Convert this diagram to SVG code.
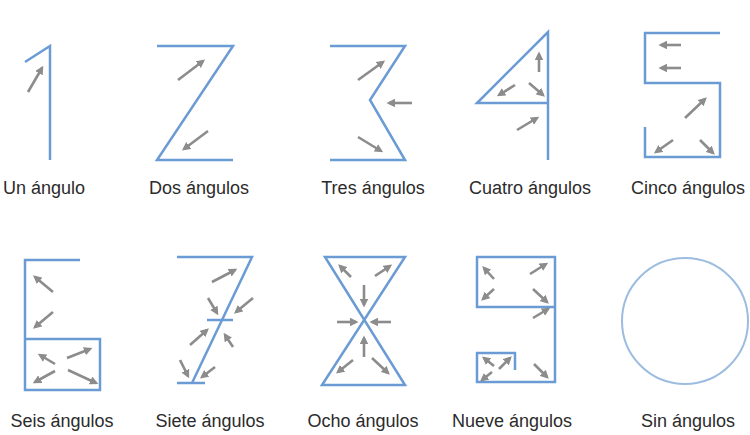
<svg xmlns="http://www.w3.org/2000/svg" width="750" height="435" viewBox="0 0 750 435">
<defs>
<marker id="ah" viewBox="0 0 10 10" refX="7" refY="5" markerWidth="3.3" markerHeight="3.3" orient="auto" markerUnits="strokeWidth">
<path d="M0,0 L10,5 L0,10 z" fill="#8c8c8c"/>
</marker>
</defs>
<style>
.d{fill:none;stroke:#6a9bd4;stroke-width:2.5;stroke-linejoin:miter}
.a{fill:none;stroke:#8c8c8c;stroke-width:2.6;marker-end:url(#ah)}
.t{font-family:"Liberation Sans",Arial,sans-serif;font-size:18px;fill:#2b2b2b;text-anchor:middle}
</style>
<rect width="750" height="435" fill="#ffffff"/>
<g id="uno">
<polyline class="d" points="25,62 50,46 50,160"/>
<line class="a" x1="28" y1="92" x2="42" y2="68"/>
<text class="t" x="44" y="194">Un ángulo</text>
</g>
<g id="dos">
<polyline class="d" points="157,46 233,46 157,160 233,160"/>
<line class="a" x1="178" y1="80" x2="203" y2="61"/>
<line class="a" x1="208" y1="131" x2="184" y2="149"/>
<text class="t" x="199" y="194">Dos ángulos</text>
</g>
<g id="tres">
<polyline class="d" points="330,46 405,46 370,100 405,160 330,160"/>
<line class="a" x1="358" y1="80" x2="383" y2="62"/>
<line class="a" x1="412" y1="103" x2="389" y2="103"/>
<line class="a" x1="358" y1="137" x2="381" y2="151"/>
<text class="t" x="373" y="194">Tres ángulos</text>
</g>
<g id="cuatro">
<polyline class="d" points="548,160 548,32 477,103 548,103"/>
<line class="a" x1="539" y1="72" x2="539" y2="54"/>
<line class="a" x1="515" y1="85" x2="499" y2="95"/>
<line class="a" x1="529" y1="83" x2="543" y2="95"/>
<line class="a" x1="517" y1="130" x2="537" y2="118"/>
<text class="t" x="530" y="194">Cuatro ángulos</text>
</g>
<g id="cinco">
<polyline class="d" points="720,33 645,33 645,83 720,83 720,157 645,157 645,127"/>
<line class="a" x1="681" y1="45" x2="661" y2="45"/>
<line class="a" x1="681" y1="68" x2="661" y2="68"/>
<line class="a" x1="685" y1="118" x2="705" y2="99"/>
<line class="a" x1="673" y1="140" x2="656" y2="152"/>
<line class="a" x1="700" y1="140" x2="713" y2="153"/>
<text class="t" x="688" y="194">Cinco ángulos</text>
</g>
<g id="seis">
<polyline class="d" points="80,260 25,260 25,390 100,390 100,339 25,339"/>
<line class="a" x1="53" y1="292" x2="35" y2="277"/>
<line class="a" x1="53" y1="312" x2="35" y2="327"/>
<line class="a" x1="55" y1="364" x2="40" y2="355"/>
<line class="a" x1="67" y1="358" x2="90" y2="349"/>
<line class="a" x1="55" y1="371" x2="35" y2="382"/>
<line class="a" x1="68" y1="370" x2="96" y2="383"/>
<text class="t" x="62" y="427">Seis ángulos</text>
</g>
<g id="siete">
<polyline class="d" points="177,257 252,257 192,383"/>
<line class="d" x1="207" y1="320" x2="233" y2="320"/>
<line class="d" x1="177" y1="383" x2="205" y2="383"/>
<line class="a" x1="212" y1="282" x2="235" y2="270"/>
<line class="a" x1="208" y1="298" x2="217" y2="313"/>
<line class="a" x1="253" y1="298" x2="236" y2="312"/>
<line class="a" x1="190" y1="345" x2="207" y2="330"/>
<line class="a" x1="233" y1="347" x2="225" y2="335"/>
<line class="a" x1="180" y1="360" x2="188" y2="376"/>
<line class="a" x1="215" y1="367" x2="202" y2="377"/>
<text class="t" x="210" y="427">Siete ángulos</text>
</g>
<g id="ocho">
<polygon class="d" points="325,257 405,257 322,385 405,385"/>
<line class="a" x1="351" y1="277" x2="340" y2="266"/>
<line class="a" x1="375" y1="276" x2="390" y2="266"/>
<line class="a" x1="364" y1="285" x2="364" y2="305"/>
<line class="a" x1="337" y1="322" x2="356" y2="322"/>
<line class="a" x1="391" y1="322" x2="372" y2="322"/>
<line class="a" x1="364" y1="357" x2="364" y2="338"/>
<line class="a" x1="353" y1="360" x2="338" y2="372"/>
<line class="a" x1="372" y1="358" x2="388" y2="373"/>
<text class="t" x="363" y="427">Ocho ángulos</text>
</g>
<g id="nueve">
<polyline class="d" points="555,307 477,307 477,257 555,257 555,382 477,382 477,353 515,353 515,370"/>
<line class="a" x1="494" y1="279" x2="484" y2="268"/>
<line class="a" x1="530" y1="274" x2="546" y2="264"/>
<line class="a" x1="494" y1="289" x2="483" y2="299"/>
<line class="a" x1="533" y1="289" x2="547" y2="302"/>
<line class="a" x1="533" y1="318" x2="548" y2="309"/>
<line class="a" x1="534" y1="364" x2="547" y2="377"/>
<line class="a" x1="494" y1="366" x2="484" y2="358"/>
<line class="a" x1="499" y1="369" x2="510" y2="358"/>
<line class="a" x1="492" y1="372" x2="482" y2="380"/>
<text class="t" x="512" y="427">Nueve ángulos</text>
</g>
<g id="cero">
<circle cx="685" cy="321" r="63" fill="none" stroke="#9dbde0" stroke-width="2"/>
<text class="t" x="688" y="427">Sin ángulos</text>
</g>
</svg>
